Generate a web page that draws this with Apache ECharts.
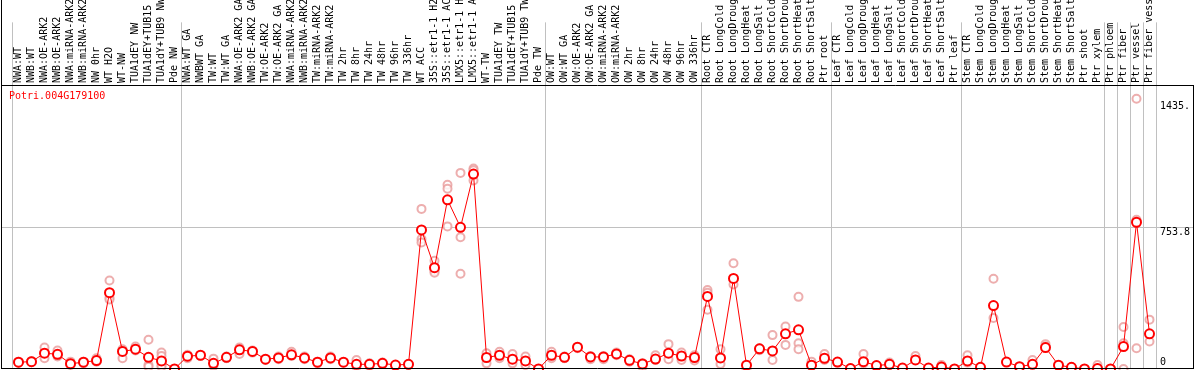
<!DOCTYPE html>
<html><head><meta charset="utf-8">
<script src="https://cdn.jsdelivr.net/npm/echarts@6/dist/echarts.min.js"></script>
<style>html,body{margin:0;padding:0;background:#fff}#c{width:1194px;height:370px}</style>
</head><body><div id="c"></div><script>
const geneName = 'Potri.004G179100';
const categories = [
 'NWA:WT','NWB:WT','NWA:OE-ARK2','NWB:OE-ARK2','NWA:miRNA-ARK2','NWB:miRNA-ARK2','NW 0hr','WT H2O','WT-NW','TUA1dEY NW','TUA1dEY+TUB15 NW','TUA1dY+TUB9 NW','Pde NW',
 'NWA:WT GA','NWBWT GA','TW:WT','TW:WT GA','NWA:OE-ARK2 GA','NWB:OE-ARK2 GA','TW:OE-ARK2','TW:OE-ARK2 GA','NWA:miRNA-ARK2 GA','NWB:miRNA-ARK2 GA','TW:miRNA-ARK2','TW:miRNA-ARK2 GA','TW 2hr','TW 8hr','TW 24hr','TW 48hr','TW 96hr','TW 336hr','WT ACC','35S::etr1-1 H2O','35S::etr1-1 ACC','LMX5::etr1-1 H2O','LMX5::etr1-1 ACC','WT-TW','TUA1dEY TW','TUA1dEY+TUB15 TW','TUA1dY+TUB9 TW','Pde TW',
 'OW:WT','OW:WT GA','OW:OE-ARK2','OW:OE-ARK2 GA','OW:miRNA-ARK2','OW:miRNA-ARK2 GA','OW 2hr','OW 8hr','OW 24hr','OW 48hr','OW 96hr','OW 336hr',
 'Root CTR','Root LongCold','Root LongDrought','Root LongHeat','Root LongSalt','Root ShortCold','Root ShortDrought','Root ShortHeat','Root ShortSalt','Ptr root',
 'Leaf CTR','Leaf LongCold','Leaf LongDrought','Leaf LongHeat','Leaf LongSalt','Leaf ShortCold','Leaf ShortDrought','Leaf ShortHeat','Leaf ShortSalt','Ptr leaf',
 'Stem CTR','Stem LongCold','Stem LongDrought','Stem LongHeat','Stem LongSalt','Stem ShortCold','Stem ShortDrought','Stem ShortHeat','Stem ShortSalt','Ptr shoot','Ptr xylem',
 'Ptr phloem','Ptr fiber','Ptr vessel','Ptr fiber vessel'
];
const means = [
 36,39,84,78,28,36,45,405,93,105,62,43,0,
 68,73,30,62,102,93,52,59,75,59,36,59,36,25,25,30,21,25,738,538,898,752,1035,61,73,52,43,0,
 73,62,116,64,64,80,46,27,53,84,69,61,
 385,59,481,20,107,96,187,208,20,57,
 37,2,39,18,25,5,48,5,11,0,
 43,9,337,37,12,25,114,20,9,0,2,
 0,119,779,187
];
const replicates = [
 [33,39,36],[36,42,39],[114,57,84],[98,66,75],[39,25,21],[30,39,36],[57,39,45],[470,378,369],[105,57,93],[119,98,105],[155,21,12],[87,69,21,12],[0,0,0],
 [75,57],[73,70],[55,16],[66,57],[114,80],[98,87],[52,48],[66,52],[91,69],[66,52],[39,30],[66,52],[36,34],[48,12],[30,16],[34,27],[21,16],[27,21],
 [850,690,672],[574,520,511],[978,957,757],[1041,699,506],[1064,1055,1001],[84,30],[92,57],[80,30],[66,21],[0,0],
 [92,57],[66,57],[116,110],[69,52],[69,52],[87,73],[52,39],[30,12],[73,48],[132,52],[87,48],[73,45],
 [419,405,315],[105,27],[561,449],[0,20],[110,100],[180,48],[226,128],[383,137,105],[39,20],[80,48],
 [34,37],[2,2],[80,30],[18,16],[34,21],[5,5],[69,48],[5,5],[21,11],[0,0],
 [73,34],[9,9],[479,271],[37,37],[12,5],[48,25],[132,119],[20,18],[9,9],[0,0],[21,2],
 [0,0],[223,137,0],[1435,110,792],[262,146]
];
const groupStarts = [0,13,41,53,63,73,84,85,86,87];
const yMax = 1507.6;
const yTickValues = [1435, 753.8, 0];
const yTickLabels = ['1435.', '753.8', '0'];

const FONT = 'DejaVu Sans Mono';
const repPoints = [];
replicates.forEach((arr, i) => arr.forEach(v => repPoints.push([i, v])));

const chart = echarts.init(document.getElementById('c'), null, {renderer: 'canvas'});
const sepInterval = (idx) => groupStarts.indexOf(idx) >= 0;
chart.setOption({
  animation: false,
  backgroundColor: '#fff',
  title: {
    text: geneName, left: 9, top: 91, padding: 0,
    textStyle: {fontFamily: FONT, fontSize: 10, fontWeight: 'normal', color: '#ff0000'}
  },
  grid: [
    {left: 12, right: 38, top: 85, bottom: 1},
    {left: 12, right: 38, top: 0, height: 85}
  ],
  xAxis: [
    {type: 'category', gridIndex: 0, data: categories, boundaryGap: true,
     axisLine: {show: false}, axisTick: {show: false}, axisLabel: {show: false},
     splitLine: {show: true, interval: sepInterval, lineStyle: {color: '#c0c0c0', width: 1}}},
    {type: 'category', gridIndex: 1, data: categories, boundaryGap: true, position: 'bottom',
     axisLine: {show: false}, axisTick: {show: false},
     axisLabel: {show: true, inside: true, rotate: 90, interval: 0, margin: 2,
       fontFamily: FONT, fontSize: 10, color: '#000'},
     splitLine: {show: true, interval: sepInterval, lineStyle: {color: '#c0c0c0', width: 1}}}
  ],
  yAxis: [
    {type: 'value', gridIndex: 0, min: 0, max: yMax, show: false},
    {type: 'value', gridIndex: 1, show: false}
  ],
  series: [
    {type: 'scatter', xAxisIndex: 0, yAxisIndex: 0, data: repPoints,
     symbol: 'emptyCircle', symbolSize: 8,
     itemStyle: {color: '#e99a9a', borderColor: '#e99a9a', borderWidth: 1.3}, z: 2},
    {type: 'line', xAxisIndex: 0, yAxisIndex: 0, data: means,
     symbol: 'emptyCircle', symbolSize: 9, showAllSymbol: true,
     lineStyle: {color: '#ff0000', width: 1},
     itemStyle: {color: '#ff0000', borderColor: '#ff0000', borderWidth: 1.6}, z: 3}
  ]
});

// decorations positioned from the library's scales
const yPix = v => chart.convertToPixel({yAxisIndex: 0}, v);
const y0 = yPix(0), yTop = yPix(yMax), yMid = yPix(753.8);
const offs = [8, 5, -7];
const graphics = [
  {type: 'line', shape: {x1: 1.5, y1: 0, x2: 1.5, y2: y0}, style: {stroke: '#000', lineWidth: 1}, z: 10},
  {type: 'line', shape: {x1: 1193.5, y1: yTop, x2: 1193.5, y2: y0}, style: {stroke: '#000', lineWidth: 1}, z: 10},
  {type: 'line', shape: {x1: 1, y1: Math.round(yTop) + 0.5, x2: 1194, y2: Math.round(yTop) + 0.5}, style: {stroke: '#000', lineWidth: 1}, z: 10},
  {type: 'line', shape: {x1: 1, y1: Math.round(y0) - 0.5, x2: 1194, y2: Math.round(y0) - 0.5}, style: {stroke: '#000', lineWidth: 1}, z: 10},
  {type: 'line', shape: {x1: 1, y1: Math.round(yMid) + 0.5, x2: 1193, y2: Math.round(yMid) + 0.5}, style: {stroke: '#c0c0c0', lineWidth: 1}, z: 0}
];
yTickValues.forEach((v, i) => {
  graphics.push({type: 'text', x: 1160, y: yPix(v) + offs[i],
    style: {text: yTickLabels[i], fontFamily: FONT, fontSize: 10, fill: '#000', verticalAlign: 'middle', align: 'left'}, z: 10});
});
chart.setOption({graphic: graphics});
</script></body></html>
